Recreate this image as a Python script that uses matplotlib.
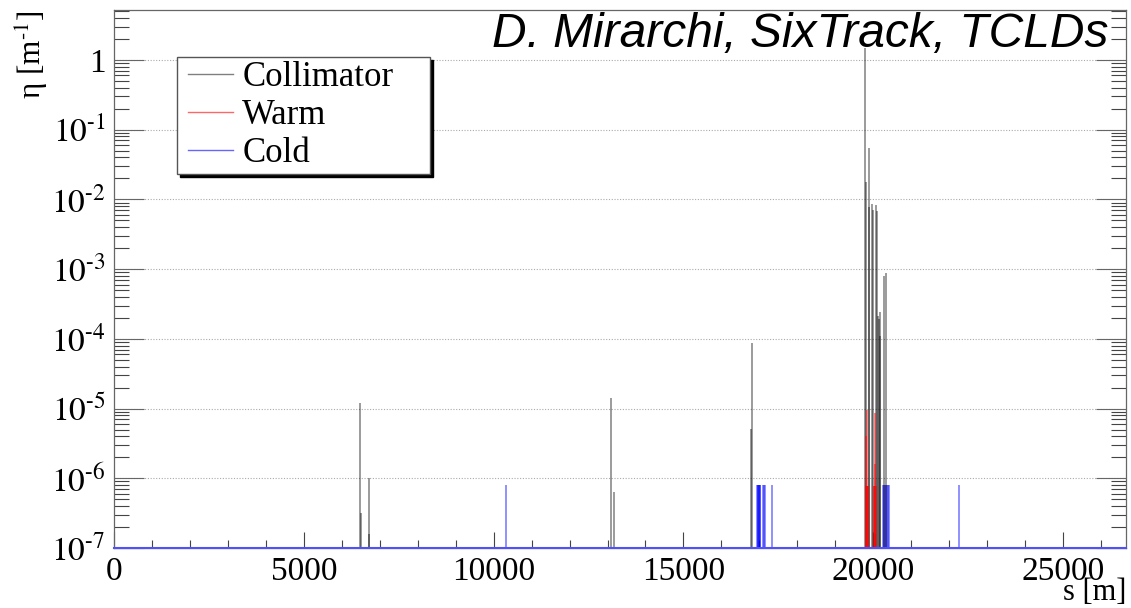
import numpy as np
import matplotlib
matplotlib.use("Agg")
import matplotlib.pyplot as plt
from matplotlib.lines import Line2D
from matplotlib.legend_handler import HandlerLine2D
from matplotlib.ticker import MultipleLocator, LogLocator, NullFormatter

plt.rcParams['font.family'] = ['Liberation Serif', 'DejaVu Serif']
plt.rcParams['mathtext.fontset'] = 'stix'

# loss map data: s position [m] and local cleaning inefficiency eta [1/m]
coll_s = [6490, 6500, 6720, 6730, 13097, 13176, 16771, 16797,
          19780, 19798, 19886, 19877, 19956, 19982, 20040, 20061, 20096,
          20132, 20150, 20184, 20167, 20272, 20333]
coll_eta = [1.2e-5, 3.2e-7, 1.0e-6, 1.6e-7, 1.4e-5, 6.4e-7, 5.1e-6, 8.6e-5,
            1.5, 1.8e-2, 5.5e-2, 7.7e-3, 8.6e-3, 7.0e-3, 1.6e-7, 8.2e-3, 6.9e-3,
            2.1e-4, 1.9e-4, 2.4e-4, 1.1e-4, 8.0e-4, 8.9e-4]

warm_s = [19807, 19816, 19825, 19833, 19842, 19851, 19860,
          20018, 20027, 20035, 20044, 20053, 20061]
warm_eta = [7.8e-7, 4.0e-6, 7.8e-7, 9.5e-6, 7.8e-7, 7.8e-7, 7.8e-7,
            7.8e-7, 7.8e-7, 7.8e-7, 8.7e-6, 1.6e-6, 7.8e-7]

cold_s = [10316, 16940, 16955, 16970, 16985, 17000, 17015, 17026,
          17097, 17120, 17140, 17334,
          20250, 20280, 20310, 20340, 20370, 20400, 20420, 22250]
cold_eta = [8e-7] * len(cold_s)

ymin, ymax = 1e-7, 5.2
xmax = 26658.88

fig = plt.figure(figsize=(11.31, 6.08), dpi=100)
ax = fig.add_axes([0.1008, 0.0987, 0.8948, 0.8849])

ax.vlines(cold_s, ymin, cold_eta, colors='blue', alpha=0.55, lw=1.1)
ax.vlines(coll_s, ymin, coll_eta, colors='black', alpha=0.5, lw=1.1)
ax.vlines(warm_s, ymin, warm_eta, colors='red', alpha=0.6, lw=1.1)
ax.axhline(ymin, color='#5050ff', lw=1.5, clip_on=False, zorder=5)

ax.set_yscale('log')
ax.set_xlim(0, xmax)
ax.set_ylim(ymin, ymax)

ax.xaxis.set_major_locator(MultipleLocator(5000))
ax.xaxis.set_minor_locator(MultipleLocator(1000))
yt = [10.0 ** k for k in range(-7, 1)]
ax.set_yticks(yt, [r'$10^{\text{-%d}}$' % -k for k in range(-7, 0)] + ['1'])
ax.yaxis.set_minor_locator(LogLocator(base=10, subs=np.arange(2, 10), numticks=20))
ax.yaxis.set_minor_formatter(NullFormatter())

ax.tick_params(axis='x', which='major', direction='in', length=11.5, width=0.8,
               color='#444444', labelsize=24, pad=6, top=False)
ax.tick_params(axis='x', which='minor', direction='in', length=5.8, width=0.8,
               color='#444444', top=False)
ax.tick_params(axis='y', which='major', direction='in', length=21.6, width=0.8,
               color='#666666', labelsize=24, pad=6, right=True)
ax.tick_params(axis='y', which='minor', direction='in', length=10.8, width=0.8,
               color='#444444', right=True)

ax.yaxis.grid(True, which='major', linestyle=(0, (1, 1.5)), color='#aaaaaa', lw=0.8)
for sp in ax.spines.values():
    sp.set_color('#666666')
    sp.set_linewidth(0.9)

ax.set_xlabel('s [m]', loc='right', fontsize=22)
ax.xaxis.label.set_va('bottom')
ax.xaxis.set_label_coords(1.0, -0.1095)
ax.set_ylabel(r'η [m$^{\text{-1}}$]', loc='top', fontsize=22.5)
ax.yaxis.set_label_coords(-0.062, 1.0)

handles = [Line2D([], [], color='black', alpha=0.5, lw=1),
           Line2D([], [], color='red', alpha=0.6, lw=1),
           Line2D([], [], color='blue', alpha=0.6, lw=1)]
leg = ax.legend(handles, ['Collimator', 'Warm', 'Cold'], loc='upper left',
                bbox_to_anchor=(177 / 1131, 1 - 57 / 608, 253 / 1131, 0.0),
                bbox_transform=fig.transFigure, mode='expand',
                borderaxespad=0, fontsize=25, handlelength=1.5, handletextpad=0.26,
                borderpad=0.12, labelspacing=0.14, fancybox=False, framealpha=1,
                edgecolor='#555555', shadow={'color': 'black', 'alpha': 1},
                handler_map={Line2D: HandlerLine2D(xpad=0.2)})
leg.get_frame().set_linewidth(1.0)

fig.text(1108 / 1131, 1 - 12 / 608, 'D. Mirarchi, SixTrack, TCLDs', ha='right', va='top',
         fontsize=34.5, style='italic', family='Liberation Sans')

fig.savefig('out.png', dpi=100)
